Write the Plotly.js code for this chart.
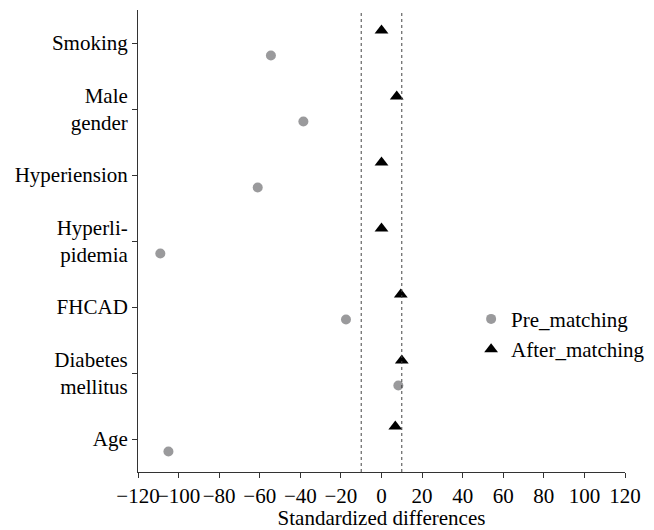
<!DOCTYPE html>
<html>
<head>
<meta charset="utf-8">
<script src="https://cdn.plot.ly/plotly-3.0.1.min.js"></script>
<style>html,body{margin:0;padding:0;background:#fff;}#chart{width:654px;height:530px;}</style>
</head>
<body>
<div id="chart"></div>
<script>
// Categories, top to bottom
var categories = ["Smoking", "Male<br>gender", "Hyperiension", "Hyperli-<br>pidemia", "FHCAD", "Diabetes<br>mellitus", "Age"];
// Standardized differences (%)
var preMatching = [-54.5, -38.5, -61, -109, -17.5, 8.3, -105];
var afterMatching = [0, 7.5, 0, 0, 9.5, 10, 6.8];
var xTicks = [-120, -100, -80, -60, -40, -20, 0, 20, 40, 60, 80, 100, 120];
var thresholds = [-10, 10];

var n = categories.length;
var catPos = categories.map(function(c, i){ return n - i; });
var off = 0.19;

var fontFam = "Liberation Serif, Times New Roman, serif";

var traces = [
  {
    x: preMatching,
    y: catPos.map(function(p){ return p - off; }),
    mode: "markers",
    type: "scatter",
    name: "Pre_matching",
    marker: {symbol: "circle", size: 10, color: "#9a9a9c"}
  },
  {
    x: afterMatching,
    y: catPos.map(function(p){ return p + off; }),
    mode: "markers",
    type: "scatter",
    name: "After_matching",
    marker: {symbol: "triangle-up", size: 12, color: "#000000"}
  }
];

var shapes = thresholds.map(function(t){
  return {type: "line", xref: "x", yref: "paper", x0: t, x1: t, y0: 0, y1: 1,
          line: {color: "#444", width: 1, dash: "dot"}};
});

var layout = {
  width: 654, height: 530,
  margin: {l: 138, r: 29, t: 10, b: 58, autoexpand: false},
  paper_bgcolor: "#fff", plot_bgcolor: "#fff",
  font: {family: fontFam, size: 21, color: "#000"},
  showlegend: true,
  legend: {x: 0.684, y: 0.375, xanchor: "left", yanchor: "top", bgcolor: "rgba(0,0,0,0)",
           font: {family: fontFam, size: 21, color: "#000"}, itemwidth: 30, tracegroupgap: 0},
  xaxis: {
    range: [-120, 120],
    tickvals: xTicks,
    ticktext: xTicks.map(function(v){ return v < 0 ? "\u2212" + Math.abs(v) : String(v); }),
    tickangle: 0,
    automargin: false,
    showgrid: false, zeroline: false,
    showline: true, linecolor: "#333", linewidth: 1,
    ticks: "outside", ticklen: 5, tickcolor: "#333",
    tickfont: {family: fontFam, size: 21, color: "#000"},
    title: {text: "Standardized differences", font: {family: fontFam, size: 21, color: "#000"}, standoff: 6}
  },
  yaxis: {
    range: [0.5, n + 0.5],
    tickvals: catPos,
    ticktext: categories,
    automargin: false,
    showgrid: false, zeroline: false,
    showline: true, linecolor: "#333", linewidth: 1,
    ticks: "outside", ticklen: 5, tickcolor: "#333",
    tickfont: {family: fontFam, size: 21, color: "#000"}
  },
  shapes: shapes
};

Plotly.newPlot("chart", traces, layout, {displayModeBar: false, staticPlot: true});
</script>
</body>
</html>
